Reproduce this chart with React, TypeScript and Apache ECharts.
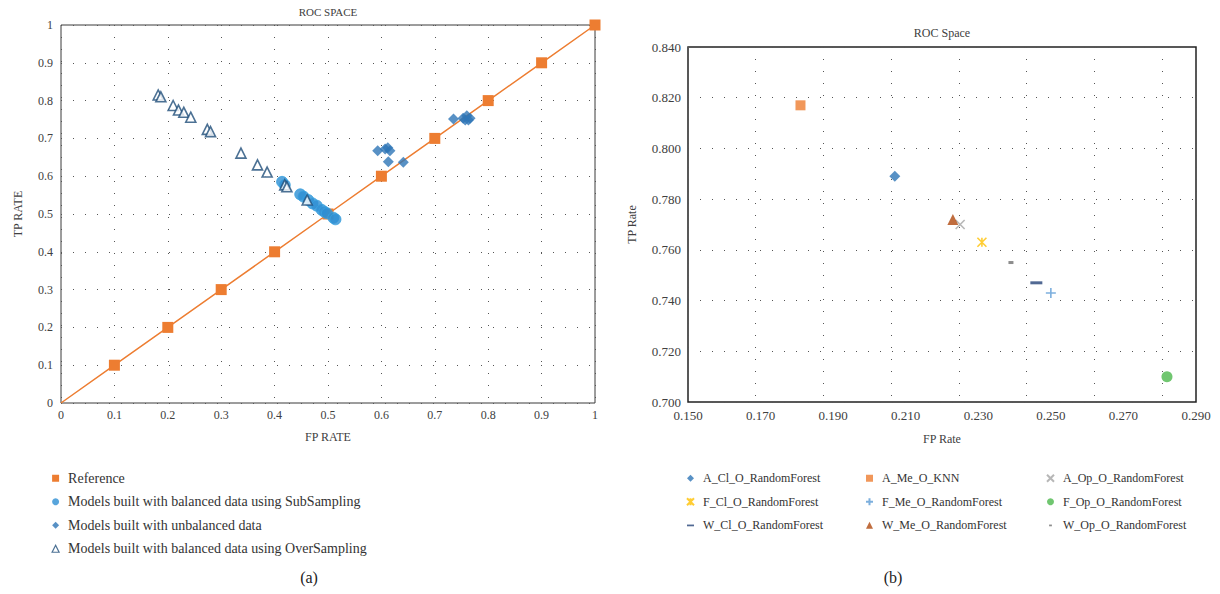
import React, { useEffect, useRef } from "react";
import * as echarts from "echarts";

// ---- tick values ----
const leftTicks = [0, 0.1, 0.2, 0.3, 0.4, 0.5, 0.6, 0.7, 0.8, 0.9, 1];
const rightXTicks = [0.15, 0.17, 0.19, 0.21, 0.23, 0.25, 0.27, 0.29];
const rightYTicks = [0.7, 0.72, 0.74, 0.76, 0.78, 0.8, 0.82, 0.84];

// ---- chart (a) data ----
const referenceFP = [0, 0.1, 0.2, 0.3, 0.4, 0.5, 0.6, 0.7, 0.8, 0.9, 1];
const referenceTP = [0, 0.1, 0.2, 0.3, 0.4, 0.5, 0.6, 0.7, 0.8, 0.9, 1];

const subSamplingFP = [0.414, 0.419, 0.448, 0.454, 0.463, 0.471, 0.479, 0.488, 0.493, 0.498, 0.51, 0.514];
const subSamplingTP = [0.585, 0.577, 0.552, 0.546, 0.537, 0.528, 0.522, 0.511, 0.506, 0.502, 0.49, 0.486];

const unbalancedFP = [0.593, 0.607, 0.612, 0.616, 0.613, 0.641, 0.735, 0.753, 0.757, 0.76, 0.763, 0.766];
const unbalancedTP = [0.667, 0.672, 0.675, 0.667, 0.638, 0.637, 0.751, 0.753, 0.749, 0.76, 0.749, 0.753];

const overSamplingFP = [0.182, 0.187, 0.21, 0.22, 0.23, 0.243, 0.274, 0.28, 0.337, 0.368, 0.386, 0.419, 0.423, 0.461];
const overSamplingTP = [0.815, 0.81, 0.787, 0.775, 0.769, 0.756, 0.724, 0.718, 0.661, 0.63, 0.611, 0.577, 0.572, 0.537];

const leftSeriesNames = [
  "Reference",
  "Models built with balanced data using SubSampling",
  "Models built with unbalanced data",
  "Models built with balanced data using OverSampling",
];

// ---- chart (b) data ----
const modelNames = [
  "A_Cl_O_RandomForest",
  "A_Me_O_KNN",
  "A_Op_O_RandomForest",
  "F_Cl_O_RandomForest",
  "F_Me_O_RandomForest",
  "F_Op_O_RandomForest",
  "W_Cl_O_RandomForest",
  "W_Me_O_RandomForest",
  "W_Op_O_RandomForest",
];
const modelFP = [0.207, 0.181, 0.225, 0.231, 0.25, 0.282, 0.246, 0.223, 0.239];
const modelTP = [0.789, 0.817, 0.77, 0.763, 0.743, 0.71, 0.747, 0.772, 0.755];

// ---- styles ----
const FONT = "'Liberation Serif', 'DejaVu Serif', serif";
const TEXT = "#404040";
const DOT = { type: [1, 11] as any, color: "#555", width: 1 };

const X_PATH = "path://M0,0L10,10M10,0L0,10";
const AST_PATH = "path://M0,0L10,10M10,0L0,10M5,0L5,10";
const PLUS_PATH = "path://M5,0L5,10M0,5L10,5";

const modelStyles: any[] = [
  { symbol: "diamond", size: 11, color: "#2E75B6" },
  { symbol: "rect", size: 10, color: "#ED7D31" },
  { symbol: X_PATH, size: 9, color: "none", stroke: "#A5A5A5" },
  { symbol: AST_PATH, size: 9, color: "none", stroke: "#FFC000" },
  { symbol: PLUS_PATH, size: 10, color: "none", stroke: "#5B9BD5" },
  { symbol: "circle", size: 11, color: "#4CB84C" },
  { symbol: "rect", size: [12, 3], color: "#264478" },
  { symbol: "triangle", size: 11, color: "#B0480E" },
  { symbol: "rect", size: [5, 3], color: "#707070" },
];
const legendIcons = [
  "diamond",
  "rect",
  X_PATH,
  AST_PATH,
  PLUS_PATH,
  "circle",
  "path://M0,0M10,10M0,4L10,4L10,6.5L0,6.5Z",
  "triangle",
  "path://M0,0M10,10M3,4L7,4L7,6.5L3,6.5Z",
];

const zip = (xs: number[], ys: number[]) => xs.map((x, i) => [x, ys[i]]);

export default function App() {
  const ref = useRef<HTMLDivElement>(null);

  useEffect(() => {
    document.body.style.margin = "0";
    if (!ref.current) return;
    const chart = echarts.init(ref.current, null, { renderer: "svg" });

    const axisLabelStyle = { fontFamily: FONT, fontSize: 12, color: TEXT };
    const nameStyle = { fontFamily: FONT, fontSize: 12, color: TEXT };

    const rightSeries = modelNames.map((name, i) => {
      const s = modelStyles[i];
      return {
        name,
        type: "scatter",
        xAxisIndex: 1,
        yAxisIndex: 1,
        symbol: s.symbol,
        symbolSize: s.size,
        itemStyle: s.stroke
          ? { color: "none", borderColor: s.stroke, borderWidth: 1.6 }
          : { color: s.color },
        data: [[modelFP[i], modelTP[i]]],
        z: 3,
      };
    });

    const legendItem = (i: number) => ({ name: modelNames[i], icon: legendIcons[i] });
    const rightLegendBase = {
      orient: "vertical",
      top: 466,
      itemWidth: 7,
      itemHeight: 7,
      itemGap: 9,
      textStyle: { fontFamily: FONT, fontSize: 12, color: "#333", lineHeight: 14.5, padding: [0, 0, 0, 4] },
    };

    const option: any = {
      animation: false,
      backgroundColor: "#fff",
      grid: [
        { left: 61, right: 625, top: 25, bottom: 191, show: true, borderColor: "#3a3a3a", borderWidth: 1 },
        { left: 688, right: 24, top: 47, bottom: 192, show: true, borderColor: "#222", borderWidth: 1.5 },
      ],
      xAxis: [
        {
          gridIndex: 0,
          type: "value",
          min: leftTicks[0],
          max: leftTicks[leftTicks.length - 1],
          interval: 0.1,
          name: "FP RATE",
          nameLocation: "middle",
          nameGap: 28,
          nameTextStyle: nameStyle,
          axisLine: { show: false },
          axisTick: { show: false },
          axisLabel: { ...axisLabelStyle, margin: 6, formatter: (v: number) => String(+v.toFixed(1)) },
          splitLine: { show: true, lineStyle: DOT },
        },
        {
          gridIndex: 1,
          type: "value",
          min: rightXTicks[0],
          max: rightXTicks[rightXTicks.length - 1],
          interval: 0.02,
          name: "FP Rate",
          nameLocation: "middle",
          nameGap: 31,
          nameTextStyle: nameStyle,
          axisLine: { show: false },
          axisTick: { show: false },
          axisLabel: { ...axisLabelStyle, fontSize: 13, margin: 7, formatter: (v: number) => v.toFixed(3) },
          splitLine: { show: false },
        },
        {
          // helper axis for the vertical dotted gridlines of chart (b)
          gridIndex: 1,
          type: "value",
          position: "top",
          min: 0,
          max: 7.5,
          interval: 1,
          axisLine: { show: false },
          axisTick: { show: false },
          axisLabel: { show: false },
          splitLine: { show: true, lineStyle: DOT },
        },
      ],
      yAxis: [
        {
          gridIndex: 0,
          type: "value",
          min: leftTicks[0],
          max: leftTicks[leftTicks.length - 1],
          interval: 0.1,
          name: "TP RATE",
          nameLocation: "middle",
          nameGap: 37,
          nameRotate: 90,
          nameTextStyle: nameStyle,
          axisLine: { show: false },
          axisTick: { show: false },
          axisLabel: { ...axisLabelStyle, margin: 8, formatter: (v: number) => String(+v.toFixed(1)) },
          splitLine: { show: true, lineStyle: DOT },
        },
        {
          gridIndex: 1,
          type: "value",
          min: rightYTicks[0],
          max: rightYTicks[rightYTicks.length - 1],
          interval: 0.02,
          name: "TP Rate",
          nameLocation: "middle",
          nameGap: 50,
          nameRotate: 90,
          nameTextStyle: nameStyle,
          axisLine: { show: false },
          axisTick: { show: false },
          axisLabel: { ...axisLabelStyle, fontSize: 13, margin: 7, formatter: (v: number) => v.toFixed(3) },
          splitLine: { show: true, lineStyle: DOT },
        },
      ],
      legend: [
        {
          orient: "vertical",
          left: 46.5,
          top: 466,
          itemWidth: 7,
          itemHeight: 7,
          itemGap: 9,
          textStyle: { fontFamily: FONT, fontSize: 14, color: "#333", lineHeight: 14.5, padding: [0, 0, 0, 4] },
          data: [
            { name: leftSeriesNames[0], icon: "rect" },
            { name: leftSeriesNames[1], icon: "circle", itemStyle: { borderWidth: 0 } },
            { name: leftSeriesNames[2], icon: "diamond" },
            { name: leftSeriesNames[3], icon: "triangle", itemStyle: { borderWidth: 1.2 } },
          ],
        },
        { ...rightLegendBase, left: 679.5, data: [legendItem(0), legendItem(3), legendItem(6)] },
        { ...rightLegendBase, left: 858.5, data: [legendItem(1), legendItem(4), legendItem(7)] },
        { ...rightLegendBase, left: 1039.5, data: [legendItem(2), legendItem(5), legendItem(8)] },
      ],
      graphic: [
        { type: "text", x: 328, y: 12, style: { text: "ROC SPACE", textAlign: "center", textVerticalAlign: "middle", fontFamily: FONT, fontSize: 11, fill: TEXT } },
        { type: "text", x: 942, y: 33, style: { text: "ROC Space", textAlign: "center", textVerticalAlign: "middle", fontFamily: FONT, fontSize: 12, fill: TEXT } },
        { type: "text", x: 309, y: 577, style: { text: "(a)", textAlign: "center", textVerticalAlign: "middle", fontFamily: FONT, fontSize: 16, fill: "#222" } },
        { type: "text", x: 893, y: 577, style: { text: "(b)", textAlign: "center", textVerticalAlign: "middle", fontFamily: FONT, fontSize: 16, fill: "#222" } },
      ],
      series: [
        {
          name: leftSeriesNames[0],
          type: "line",
          xAxisIndex: 0,
          yAxisIndex: 0,
          symbol: "rect",
          symbolSize: 11,
          lineStyle: { color: "#ED7D31", width: 1.5 },
          itemStyle: { color: "#ED7D31" },
          data: zip(referenceFP, referenceTP).map((p, i) => (i === 0 ? { value: p, symbol: "none" } : p)),
          z: 2,
        },
        {
          name: leftSeriesNames[1],
          type: "scatter",
          xAxisIndex: 0,
          yAxisIndex: 0,
          symbol: "circle",
          symbolSize: 11,
          itemStyle: { color: "#2E8FD3", borderColor: "#3AA3E0", borderWidth: 1 },
          data: zip(subSamplingFP, subSamplingTP),
          z: 3,
        },
        {
          name: leftSeriesNames[2],
          type: "scatter",
          xAxisIndex: 0,
          yAxisIndex: 0,
          symbol: "diamond",
          symbolSize: 11,
          itemStyle: { color: "#2E75B6" },
          data: zip(unbalancedFP, unbalancedTP),
          z: 3,
        },
        {
          name: leftSeriesNames[3],
          type: "scatter",
          xAxisIndex: 0,
          yAxisIndex: 0,
          symbol: "triangle",
          symbolSize: 10,
          itemStyle: { color: "#fff", borderColor: "#1F4E79", borderWidth: 1.6 },
          data: zip(overSamplingFP, overSamplingTP),
          z: 4,
        },
        ...rightSeries,
      ],
    };

    chart.setOption(option);
    return () => chart.dispose();
  }, []);

  return <div ref={ref} style={{ width: 1220, height: 594, position: "absolute", left: 0, top: 0 }} />;
}
